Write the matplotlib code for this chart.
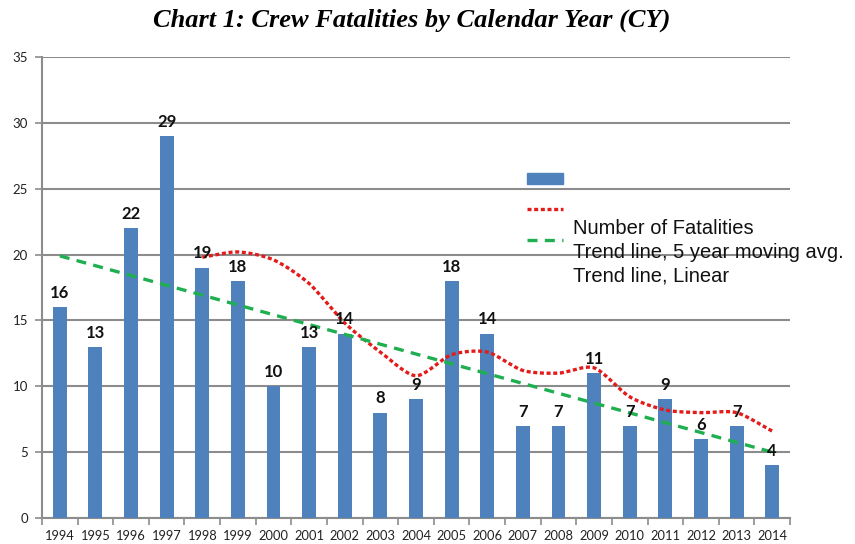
import numpy as np
import matplotlib
matplotlib.use("Agg")
import matplotlib.pyplot as plt
from matplotlib.patches import Rectangle
from matplotlib.lines import Line2D

years = ["1994", "1995", "1996", "1997", "1998", "1999", "2000", "2001", "2002", "2003", "2004",
         "2005", "2006", "2007", "2008", "2009", "2010", "2011", "2012", "2013", "2014"]
fatalities = [16, 13, 22, 29, 19, 18, 10, 13, 14, 8, 9, 18, 14, 7, 7, 11, 7, 9, 6, 7, 4]
mavg_years = ["1998", "1999", "2000", "2001", "2002", "2003", "2004", "2005", "2006",
              "2007", "2008", "2009", "2010", "2011", "2012", "2013", "2014"]
mavg_values = [19.8, 20.2, 19.6, 17.8, 14.8, 12.6, 10.8, 12.4, 12.6, 11.2, 11.0, 11.4, 9.2, 8.2, 8.0, 8.0, 6.6]
linear_years = ["1994", "2014"]
linear_values = [19.9, 5.0]
legend_labels = ["Number of Fatalities", "Trend line, 5 year moving avg.", "Trend line, Linear"]
title = "Chart 1: Crew Fatalities by Calendar Year (CY)"

BAR = "#4F81BD"
RED = "#E31B1B"
GREEN = "#1FAF50"
GRID = "#8C8C8C"

fig = plt.figure(figsize=(8.55, 5.44), dpi=100)
ax = fig.add_axes([42/855, 1-518/544, (790-42)/855, (518-57)/544])

x = np.arange(len(years))
ax.bar(x, fatalities, width=0.39, color=BAR, zorder=3)
for xi, v in zip(x, fatalities):
    ax.annotate(str(v), (xi, v), xytext=(0, 4.5), textcoords="offset points",
                ha="center", va="bottom", fontsize=12, fontweight="bold",
                family="Lato", color="#111111", zorder=5)

def smooth(xs, ys, n=20, tension=0.8):
    xs = np.asarray(xs, float); ys = np.asarray(ys, float)
    P = np.column_stack([xs, ys])
    P = np.vstack([P[0] - (P[1] - P[0]), P, P[-1] + (P[-1] - P[-2])])
    out = []
    for i in range(1, len(P) - 2):
        p0, p1, p2, p3 = P[i-1], P[i], P[i+1], P[i+2]
        c1 = p1 + tension * (p2 - p0) / 6
        c2 = p2 - tension * (p3 - p1) / 6
        t = np.linspace(0, 1, n, endpoint=False)[:, None]
        seg = (1-t)**3*p1 + 3*(1-t)**2*t*c1 + 3*(1-t)*t**2*c2 + t**3*p2
        out.append(seg)
    out.append(P[-2][None, :])
    out = np.vstack(out)
    return out[:, 0], out[:, 1]

mx = [years.index(y) for y in mavg_years]
sx, sy = smooth(mx, mavg_values)
ax.plot(sx, sy, color=RED, lw=2.4, ls=(0, (1.2, 0.8)), zorder=4)

lx = [years.index(y) for y in linear_years]
ax.plot(lx, linear_values, color=GREEN, lw=2.4, ls=(0, (3, 2.2)), zorder=4)

ax.set_xlim(-0.5, len(years) - 0.5)
ax.set_ylim(0, 35)
ax.set_yticks(range(0, 36, 5))
ax.set_xticks(x)
ax.set_xticklabels(years)
ax.set_xticks(np.arange(-0.5, len(years), 1), minor=True)
ax.tick_params(axis="x", which="major", length=0, pad=9, labelsize=9.3, labelcolor="#222222")
ax.tick_params(axis="x", which="minor", length=5, width=1.2, color=GRID, direction="out")
ax.tick_params(axis="y", length=5, width=1.2, color=GRID, labelsize=9.5, labelcolor="#222222", pad=5)
for lab in ax.get_xticklabels() + ax.get_yticklabels():
    lab.set_family("Lato")
ax.grid(axis="y", color=GRID, lw=1.5, zorder=0)
ax.set_axisbelow(True)
for s in ["top", "right"]:
    ax.spines[s].set_visible(False)
for s in ["left", "bottom"]:
    ax.spines[s].set_color(GRID)
    ax.spines[s].set_linewidth(1.5)

fig.text(412/855, 1-20/544, title, ha="center", va="center", fontsize=19,
         family="Liberation Serif", fontweight="bold", style="italic")

def fx(px): return px / 855
def fy(py): return 1 - py / 544
fig.add_artist(Rectangle((fx(527), fy(184)), fx(563) - fx(527), fy(173) - fy(184),
                         transform=fig.transFigure, color=BAR))
fig.add_artist(Line2D([fx(527), fx(563)], [fy(209), fy(209)], transform=fig.transFigure,
                      color=RED, lw=2.4, ls=(0, (1.2, 0.8))))
fig.add_artist(Line2D([fx(527), fx(563)], [fy(240), fy(240)], transform=fig.transFigure,
                      color=GREEN, lw=2.4, ls=(0, (3, 2.2))))
for i, lab in enumerate(legend_labels):
    fig.text(fx(573), fy(229 + 23.5 * i), lab, ha="left", va="center", fontsize=14.5,
             family="Liberation Sans", color="#111111")

fig.savefig("out.png", dpi=100)
